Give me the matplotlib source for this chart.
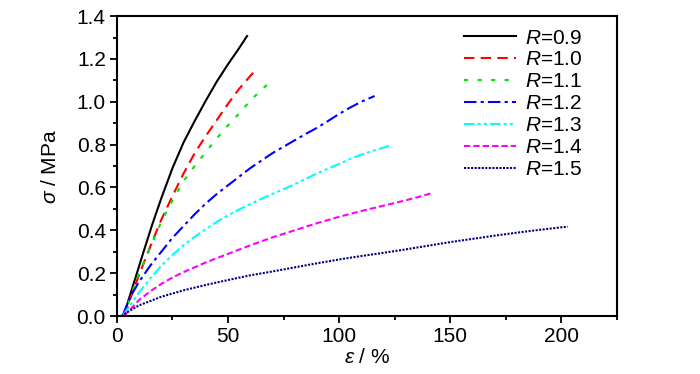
import matplotlib
matplotlib.use("Agg")
import matplotlib.pyplot as plt
from matplotlib.ticker import MultipleLocator

plt.rcParams["font.family"] = ["Liberation Sans", "DejaVu Sans"]
plt.rcParams["mathtext.fontset"] = "custom"
plt.rcParams["mathtext.it"] = "Liberation Sans:italic"
plt.rcParams["mathtext.rm"] = "Liberation Sans"

# strain (%) and stress (MPa)
labels = ["0.9", "1.0", "1.1", "1.2", "1.3", "1.4", "1.5"]

x_09 = [3, 6, 9, 12, 16, 20, 25, 30, 35, 40, 45, 50, 55, 58.6]
y_09 = [0, 0.10, 0.20, 0.30, 0.43, 0.55, 0.69, 0.81, 0.91, 1.005, 1.095, 1.175, 1.25, 1.307]

x_10 = [3.5, 6, 9, 12, 16, 20, 25, 30, 35, 40, 45, 50, 55, 60, 62.5]
y_10 = [0, 0.08, 0.165, 0.245, 0.35, 0.45, 0.56, 0.665, 0.76, 0.84, 0.915, 0.99,
        1.06, 1.12, 1.148]

x_11 = [3.5, 6, 10, 15, 20, 25, 30, 35, 40, 45, 50, 55, 60, 65, 69.8]
y_11 = [0, 0.09, 0.20, 0.32, 0.44, 0.54, 0.63, 0.70, 0.765, 0.83, 0.89, 0.945,
        1.005, 1.055, 1.10]

x_12 = [2.5, 6, 10, 15, 20, 25, 30, 35, 40, 45, 50, 55, 60, 65, 70, 75, 80, 85,
        90, 95, 100, 105, 110, 114, 116]
y_12 = [0, 0.09, 0.16, 0.235, 0.30, 0.365, 0.42, 0.475, 0.525, 0.57, 0.61, 0.65,
        0.69, 0.725, 0.76, 0.79, 0.82, 0.85, 0.878, 0.91, 0.943, 0.973, 1.0, 1.018, 1.027]

x_13 = [2.5, 6, 10, 15, 20, 25, 30, 35, 40, 45, 50, 55, 60, 65, 70, 75, 80, 85,
        90, 95, 100, 105, 110, 115, 120, 123.5]
y_13 = [0, 0.05, 0.11, 0.175, 0.235, 0.285, 0.33, 0.37, 0.405, 0.44, 0.47, 0.497,
        0.522, 0.547, 0.57, 0.592, 0.615, 0.64, 0.665, 0.688, 0.71, 0.733, 0.753, 0.77,
        0.786, 0.798]

x_14 = [3, 6, 10, 15, 20, 25, 30, 40, 50, 60, 70, 80, 90, 100, 110, 120, 130, 138, 142]
y_14 = [0, 0.03, 0.075, 0.115, 0.15, 0.18, 0.205, 0.25, 0.29, 0.33, 0.367, 0.40,
        0.433, 0.463, 0.49, 0.515, 0.54, 0.562, 0.575]

x_15 = [2, 5, 10, 15, 20, 25, 30, 40, 50, 60, 70, 80, 90, 100, 110, 120, 130, 140,
        150, 160, 170, 180, 190, 200, 203]
y_15 = [0, 0.02, 0.05, 0.07, 0.09, 0.105, 0.12, 0.145, 0.168, 0.19, 0.208, 0.227,
        0.246, 0.264, 0.28, 0.295, 0.311, 0.328, 0.345, 0.36, 0.375, 0.389, 0.402,
        0.414, 0.417]

xs = [x_09, x_10, x_11, x_12, x_13, x_14, x_15]
ys = [y_09, y_10, y_11, y_12, y_13, y_14, y_15]

colors = ["black", "#ff0000", "#00e600", "#0000ff", "#00ffff", "#ff00ff", "#000080"]
styles = [
    "-",
    (0, (5, 3)),
    (0, (2, 4.5)),
    (0, (6, 2, 1.5, 2)),
    (0, (5, 1.5, 1.5, 1.5, 1.5, 1.5)),
    (0, (3, 1.5)),
    (0, (1, 0.7)),
]

fig = plt.figure(figsize=(7, 3.74), dpi=100)
ax = fig.add_axes([0.167, 0.155, 0.714, 0.802])

for x, y, lab, c, ls in zip(xs, ys, labels, colors, styles):
    ax.plot(x, y, color=c, linestyle=ls, linewidth=1.5, label=f"$R$={lab}")

ax.set_xlim(0, 225)
ax.set_ylim(0, 1.4)
ax.xaxis.set_major_locator(MultipleLocator(50))
ax.xaxis.set_minor_locator(MultipleLocator(25))
ax.yaxis.set_major_locator(MultipleLocator(0.2))
ax.yaxis.set_minor_locator(MultipleLocator(0.1))
ax.yaxis.set_major_formatter(plt.FuncFormatter(lambda v, p: f"{v:.1f}"))
ax.tick_params(which="both", direction="out", width=1.3, labelsize=15,
               top=False, right=False, pad=3)
ax.tick_params(which="major", length=5)
ax.tick_params(which="minor", length=3)
for s in ax.spines.values():
    s.set_linewidth(1.5)

ax.set_xlabel(r"$\varepsilon$ / %", fontsize=15, labelpad=1)
ax.set_ylabel(r"$\sigma$ / MPa", fontsize=15, labelpad=12)

ax.legend(loc="upper right", bbox_to_anchor=(0.957, 1.0), frameon=False,
          fontsize=15, handlelength=2.5, labelspacing=0.14, handletextpad=0.45,
          borderaxespad=0.2)

fig.savefig("out.png", dpi=100)
